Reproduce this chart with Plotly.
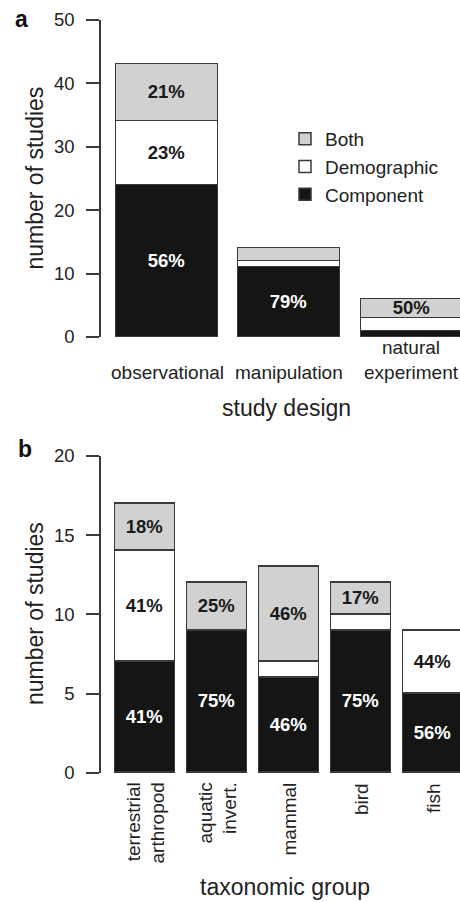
import plotly.graph_objects as go

# ---------------- data ----------------
design_labels = ["observational", "manipulation", "natural<br>experiment"]
design_component = [24, 11, 1]
design_demographic = [10, 1, 2]
design_both = [9, 2, 3]
design_text_component = ["56%", "79%", ""]
design_text_demographic = ["23%", "", ""]
design_text_both = ["21%", "", "50%"]

taxon_labels = ["terrestrial<br>arthropod", "aquatic<br>invert.", "mammal", "bird", "fish"]
taxon_component = [7, 9, 6, 9, 5]
taxon_demographic = [7, 0, 1, 1, 4]
taxon_both = [3, 3, 6, 2, 0]
taxon_text_component = ["41%", "75%", "46%", "75%", "56%"]
taxon_text_demographic = ["41%", "", "", "", "44%"]
taxon_text_both = ["18%", "25%", "46%", "17%", ""]

y_ticks_a = [0, 10, 20, 30, 40, 50]
y_ticks_b = [0, 5, 10, 15, 20]

series_names = ["Component", "Demographic", "Both"]
colors = ["#151515", "#ffffff", "#d0d1d0"]
text_colors = ["#ffffff", "#1a1a1a", "#1a1a1a"]

FONT = "Liberation Sans, Arial, Helvetica, sans-serif"
W, H = 460, 902
AXC = "#3a3a3a"

def px_y(p):
    return (H - p) / H

# R barplot style positions (width 1, space 0.2)
pos_a = [0.7 + 1.2 * i for i in range(len(design_labels))]
pos_b = [0.7 + 1.2 * i for i in range(len(taxon_labels))]

fig = go.Figure()

series_a = [design_component, design_demographic, design_both]
texts_a = [design_text_component, design_text_demographic, design_text_both]
series_b = [taxon_component, taxon_demographic, taxon_both]
texts_b = [taxon_text_component, taxon_text_demographic, taxon_text_both]

for k in range(3):
    fig.add_trace(go.Bar(
        x=pos_a, y=series_a[k], width=1.0, name=series_names[k],
        marker=dict(color=colors[k], line=dict(color=AXC, width=1.5)),
        text=texts_a[k], textposition="inside", insidetextanchor="middle",
        constraintext="none", cliponaxis=False,
        textfont=dict(family=FONT, size=18.5, color=text_colors[k], weight="bold"),
        xaxis="x", yaxis="y", showlegend=True,
    ))
for k in range(3):
    fig.add_trace(go.Bar(
        x=pos_b, y=series_b[k], width=1.0, name=series_names[k],
        marker=dict(color=colors[k], line=dict(color=AXC, width=1.5)),
        text=texts_b[k], textposition="inside", insidetextanchor="middle",
        constraintext="none", cliponaxis=False,
        textfont=dict(family=FONT, size=18.5, color=text_colors[k], weight="bold"),
        xaxis="x2", yaxis="y2", showlegend=False,
    ))

x0 = 101 / W
yaxis_common = dict(
    showline=True, linecolor=AXC, linewidth=1.5, ticks="outside", ticklen=13,
    tickwidth=1.5, tickcolor=AXC, tickfont=dict(family=FONT, size=18.5, color="#222"),
    showgrid=False, zeroline=False, ticklabelstandoff=8, automargin=False,
)
xaxis_common = dict(showline=False, showticklabels=False, ticks="", showgrid=False,
                    zeroline=False, automargin=False)

fig.update_layout(
    width=W, height=H, margin=dict(l=0, r=0, t=0, b=0),
    paper_bgcolor="white", plot_bgcolor="white",
    barmode="stack", bargap=0,
    font=dict(family=FONT, color="#222"),
    uniformtext=dict(minsize=18, mode="show"),
    xaxis=dict(domain=[x0, 1], range=[0.2 - 15 / 102, 0.2 - 15 / 102 + 359 / 102], **xaxis_common),
    yaxis=dict(domain=[px_y(337), px_y(20)], range=[0, 50], tickvals=y_ticks_a, **yaxis_common),
    xaxis2=dict(domain=[x0, 1], range=[0.2 - 14 / 60, 0.2 - 14 / 60 + 359 / 60], anchor="y2", **xaxis_common),
    yaxis2=dict(domain=[px_y(773), px_y(455.7)], range=[0, 20], tickvals=y_ticks_b, anchor="x2", **yaxis_common),
    legend=dict(x=285 / W, xanchor="left", y=px_y(120), yanchor="top",
                font=dict(family=FONT, size=19, color="#222"), traceorder="reversed",
                bgcolor="rgba(0,0,0,0)", itemclick=False, tracegroupgap=0),
)

ann = []
# category labels panel a
for p, lab in zip(pos_a, design_labels):
    ann.append(dict(x=p, y=px_y(385), xref="x", yref="paper", text=lab, showarrow=False,
                    xanchor="center", yanchor="bottom", align="center",
                    font=dict(family=FONT, size=19, color="#222")))
# category labels panel b (rotated)
for p, lab in zip(pos_b, taxon_labels):
    ann.append(dict(x=p, y=px_y(781), xref="x2", yref="paper", text=lab, showarrow=False,
                    textangle=-90, xanchor="center", yanchor="top", align="right",
                    font=dict(family=FONT, size=19, color="#222")))
# axis titles
ann += [
    dict(x=286 / W, y=px_y(408), xref="paper", yref="paper", text="study design", showarrow=False,
         xanchor="center", yanchor="middle", font=dict(family=FONT, size=23, color="#222")),
    dict(x=285 / W, y=px_y(887), xref="paper", yref="paper", text="taxonomic group", showarrow=False,
         xanchor="center", yanchor="middle", font=dict(family=FONT, size=23, color="#222")),
    dict(x=35 / W, y=px_y(178.5), xref="paper", yref="paper", text="number of studies", showarrow=False,
         textangle=-90, xanchor="center", yanchor="middle", font=dict(family=FONT, size=23, color="#222")),
    dict(x=35 / W, y=px_y(614), xref="paper", yref="paper", text="number of studies", showarrow=False,
         textangle=-90, xanchor="center", yanchor="middle", font=dict(family=FONT, size=23, color="#222")),
    dict(x=21 / W, y=px_y(19), xref="paper", yref="paper", text="<b>a</b>", showarrow=False,
         xanchor="center", yanchor="middle", font=dict(family=FONT, size=23, color="#111")),
    dict(x=25 / W, y=px_y(449), xref="paper", yref="paper", text="<b>b</b>", showarrow=False,
         xanchor="center", yanchor="middle", font=dict(family=FONT, size=23, color="#111")),
]
fig.update_layout(annotations=ann)

fig.write_html("out.html", config={"displayModeBar": False},
               post_script="document.body.style.margin='0';document.body.style.overflow='hidden';")
